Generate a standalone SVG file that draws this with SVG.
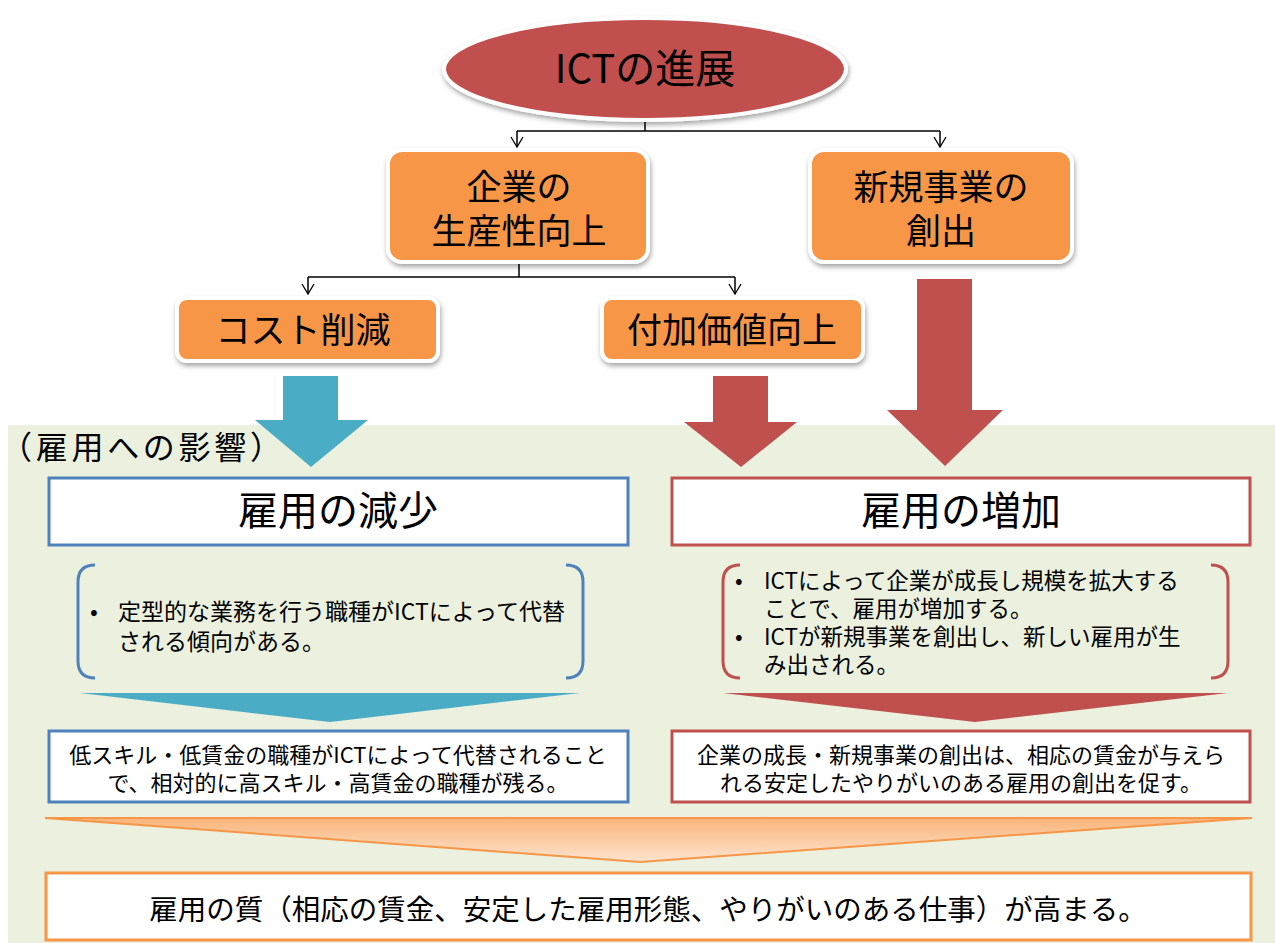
<svg xmlns="http://www.w3.org/2000/svg" width="1275" height="943" viewBox="0 0 1275 943">
<defs>
<filter id="sh" x="-10%" y="-10%" width="120%" height="130%">
<feDropShadow dx="1" dy="3" stdDeviation="2.5" flood-color="#000" flood-opacity="0.35"/>
</filter>
<linearGradient id="og" x1="0" y1="0" x2="0" y2="1">
<stop offset="0" stop-color="#F9B47A"/>
<stop offset="1" stop-color="#FDE4CF"/>
</linearGradient>
<marker id="ar" markerWidth="14" markerHeight="14" refX="12" refY="7" orient="auto" markerUnits="userSpaceOnUse" viewBox="0 0 14 14">
<path d="M2,1 L12,7 L2,13" fill="none" stroke="#000" stroke-width="1.3"/>
</marker>
</defs>
<style>
text{font-family:"Noto Sans CJK JP","Noto Sans",sans-serif;fill:#000;}
.c{text-anchor:middle;}
.orange{fill:#F79646;stroke:#fff;stroke-width:4;}
.ln{fill:none;stroke:#000;stroke-width:1.5;}
.t34{font-size:35px;}
.t22{font-size:23px;}
.t21{font-size:22px;}
</style>
<rect x="8" y="425" width="1267" height="518" fill="#EBF1DE"/>

<g id="connectors">
<path class="ln" d="M645,120 V131 M517,131 H940 M517,131 V147" marker-end="url(#ar)"/>
<path class="ln" d="M940,131 V147" marker-end="url(#ar)"/>
<path class="ln" d="M519,262 V277 M308,277 H735 M308,277 V294" marker-end="url(#ar)"/>
<path class="ln" d="M735,277 V294" marker-end="url(#ar)"/>
<polygon id="arrow-blue" points="283,376 338,376 338,420 368,420 311,467 255,420 283,420" fill="#4BACC6"/>
<polygon id="arrow-red1" points="713,376 768,376 768,422 797,422 741,467 684,422 713,422" fill="#C0504D"/>
<polygon id="arrow-red2" points="917,279 972,279 972,410 1003,410 945,466 887,410 917,410" fill="#C0504D"/>
<polygon id="tri-blue" points="80,693 580,693 330,722" fill="#4BACC6"/>
<polygon id="tri-red" points="723,693 1228,693 975,722" fill="#C0504D"/>
<polygon id="tri-orange" points="45,818 1252,818 640,862" fill="url(#og)" stroke="#F79646" stroke-width="2"/>
</g>

<g id="ict">
<ellipse cx="645" cy="69" rx="201" ry="51" fill="#C0504D" stroke="#fff" stroke-width="4" filter="url(#sh)"/>
<text x="645" y="83" class="c" font-size="40">ICTの進展</text>
</g>

<g id="productivity">
<rect x="388" y="150" width="260" height="112" rx="14" class="orange" filter="url(#sh)"/>
<text class="c t34"><tspan x="519" y="200">企業の</tspan><tspan x="519" y="244">生産性向上</tspan></text>
</g>

<g id="newbiz">
<rect x="810" y="150" width="262" height="112" rx="14" class="orange" filter="url(#sh)"/>
<text class="c t34"><tspan x="941" y="200">新規事業の</tspan><tspan x="941" y="244">創出</tspan></text>
</g>

<g id="cost">
<rect x="177" y="298" width="261" height="63" rx="10" class="orange" filter="url(#sh)"/>
<text x="303" y="343" class="c t34">コスト削減</text>
</g>

<g id="value">
<rect x="602" y="298" width="261" height="63" rx="10" class="orange" filter="url(#sh)"/>
<text x="732" y="343" class="c t34">付加価値向上</text>
</g>

<g id="impact-label">
<text x="0" y="459" font-size="32" textLength="282" lengthAdjust="spacing">（雇用への影響）</text>
</g>

<g id="decrease">
<rect x="49" y="478" width="579" height="67" fill="#fff" stroke="#4F81BD" stroke-width="3"/>
<text x="338" y="525" class="c" font-size="40">雇用の減少</text>
</g>

<g id="increase">
<rect x="672" y="478" width="578" height="67" fill="#fff" stroke="#C0504D" stroke-width="3"/>
<text x="961" y="525" class="c" font-size="40">雇用の増加</text>
</g>

<g id="decrease-detail">
<path d="M95,565 Q78,565 78,582 V661 Q78,678 95,678 M566,565 Q583,565 583,582 V661 Q583,678 566,678" fill="none" stroke="#4F81BD" stroke-width="3"/>
<text class="t22"><tspan x="90" y="620">•</tspan><tspan x="118" y="620">定型的な業務を行う職種がICTによって代替</tspan><tspan x="118" y="650">される傾向がある。</tspan></text>
</g>

<g id="increase-detail">
<path d="M740,565 Q723,565 723,582 V661 Q723,678 740,678 M1211,565 Q1228,565 1228,582 V661 Q1228,678 1211,678" fill="none" stroke="#C0504D" stroke-width="3"/>
<text style="font-size:22.5px"><tspan x="735" y="589">•</tspan><tspan x="764" y="589">ICTによって企業が成長し規模を拡大する</tspan><tspan x="764" y="617">ことで、雇用が増加する。</tspan><tspan x="735" y="645">•</tspan><tspan x="764" y="645">ICTが新規事業を創出し、新しい雇用が生</tspan><tspan x="764" y="673">み出される。</tspan></text>
</g>

<g id="decrease-result">
<rect x="49" y="731" width="579" height="71" fill="#fff" stroke="#4F81BD" stroke-width="3"/>
<text class="c t21"><tspan x="338" y="763">低スキル・低賃金の職種がICTによって代替されること</tspan><tspan x="338" y="791">で、相対的に高スキル・高賃金の職種が残る。</tspan></text>
</g>

<g id="increase-result">
<rect x="672" y="731" width="578" height="71" fill="#fff" stroke="#C0504D" stroke-width="3"/>
<text class="c t21"><tspan x="961" y="763">企業の成長・新規事業の創出は、相応の賃金が与えら</tspan><tspan x="961" y="791">れる安定したやりがいのある雇用の創出を促す。</tspan></text>
</g>

<g id="quality">
<rect x="46" y="873" width="1205" height="67" fill="#fff" stroke="#F79646" stroke-width="3"/>
<text x="648" y="920" class="c" font-size="28.5">雇用の質（相応の賃金、安定した雇用形態、やりがいのある仕事）が高まる。</text>
</g>
</svg>
